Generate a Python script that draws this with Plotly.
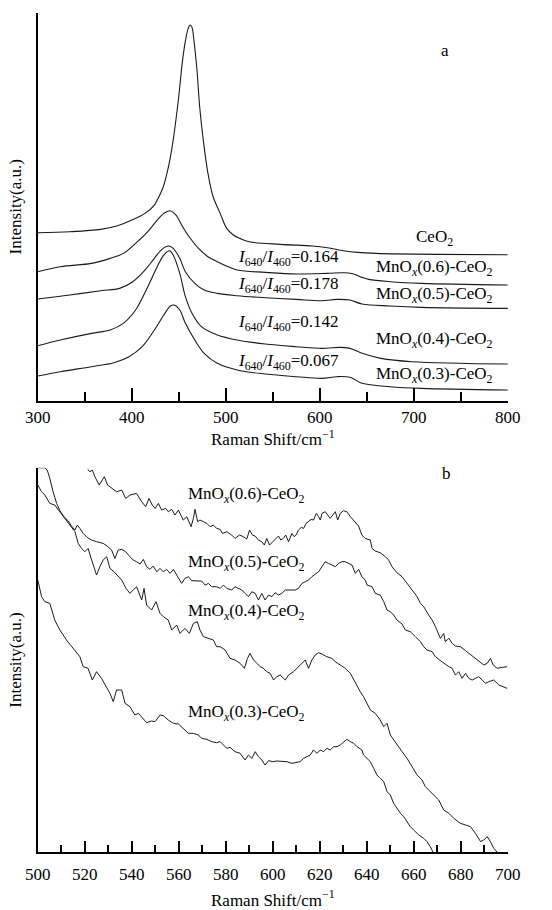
import plotly.graph_objects as go

# ---------------- Panel a data (Raman shift cm-1, intensity a.u.) ----------------
a_ceo2_x = [300, 334, 367, 384, 400, 414, 424, 427, 433.5, 439, 444, 449.5, 454, 457.5, 460, 462, 464, 466, 469,
            472.5, 476, 481, 486.5, 494, 501, 508, 515, 525, 558, 592, 608, 625, 640, 660, 725, 800]
a_ceo2_y = [50.4, 50.7, 51.4, 52.4, 54.2, 56.2, 58.7, 60.2, 64.2, 70.2, 78.2, 90.2, 102.2, 108.7, 111.7, 112.7, 112.0,
            108.2, 100.2, 87.2, 78.2, 68.2, 61.2, 56.2, 51.7, 49.7, 48.7, 47.7, 46.9, 46.4, 45.9, 45.0, 44.5, 44.2,
            43.9, 43.8]

a_06_x = [300, 324, 357, 377, 391, 404, 417, 427, 434, 440.5, 447, 454, 461, 471, 481, 491, 500, 512, 542, 575, 608,
          625, 635, 645, 652, 675, 708, 800]
a_06_y = [38.7, 40.2, 41.2, 42.7, 44.2, 47.2, 50.7, 54.2, 56.2, 57.0, 55.7, 52.2, 49.2, 45.7, 43.2, 41.7, 40.5, 39.2,
          38.5, 38.0, 38.2, 38.4, 38.1, 37.0, 36.4, 35.7, 35.2, 34.7]

a_05_x = [300, 334, 367, 387, 401, 414, 424, 432, 439, 444, 451, 457, 467, 477, 491, 512, 542, 575, 602, 618, 632,
          645, 675, 708, 800]
a_05_y = [30.5, 31.7, 33.0, 33.7, 35.7, 39.2, 42.7, 45.4, 46.4, 45.7, 42.7, 38.7, 35.2, 33.2, 32.2, 31.5, 30.9, 30.4,
          30.0, 30.4, 30.2, 29.0, 28.4, 28.0, 27.7]

a_04_x = [300, 324, 357, 377, 391, 404, 417, 427, 434, 440, 444, 451, 457, 464, 474, 491, 512, 542, 575, 602, 622,
          632, 645, 665, 698, 800]
a_04_y = [16.5, 18.2, 20.2, 21.2, 23.2, 27.2, 34.2, 40.2, 43.7, 45.0, 43.7, 38.2, 31.2, 26.2, 22.2, 19.7, 18.2, 17.0,
          16.2, 15.7, 16.0, 15.7, 14.2, 12.7, 11.7, 11.0]

a_03_x = [300, 324, 357, 381, 397, 411, 424, 434, 441, 445, 451, 457, 467, 477, 491, 512, 542, 575, 602, 618, 632,
          645, 675, 708, 800]
a_03_y = [7.4, 8.7, 10.2, 11.4, 13.2, 16.2, 21.2, 25.7, 28.4, 28.7, 27.2, 23.2, 18.2, 14.2, 11.2, 9.2, 8.0, 7.2, 6.7,
          7.2, 7.0, 5.2, 4.2, 3.7, 3.2]

# ---------------- Panel b data ----------------
b_06_x = [521.2, 522.2, 523.2, 524.3, 526.1, 528.3, 529.7, 531.4, 533.5, 535.7, 537.4, 539.2, 542.0, 544.2, 545.9,
          547.3, 548.7, 549.9, 551.3, 552.7, 554.4, 555.5, 557.0, 558.4, 559.8, 561.2, 561.9, 563.4, 564.3, 565.2,
          566.2, 566.9, 568.0, 569.0, 570.5, 571.9, 573.3, 574.7, 576.1, 577.6, 578.6, 580.4, 582.5, 583.9, 585.8,
          587.5, 588.9, 590.1, 591.3, 592.5, 593.9, 595.3, 596.4, 597.4, 598.6, 600.0, 601.3, 602.4, 603.4, 604.5,
          605.5, 606.7, 608.1, 609.1, 609.9, 610.9, 612.1, 613.1, 614.2, 615.2, 616.3, 617.3, 618.5, 619.5, 620.2,
          620.9, 622.3, 624.4, 625.6, 626.6, 627.6, 628.7, 630.1, 631.5, 633.0, 634.4, 636.5, 637.9, 639.3, 641.5,
          642.2, 643.6, 645.7, 647.9, 649.3, 650.7, 652.8, 655.0, 657.1, 659.2, 661.4, 662.8, 664.2, 666.3, 667.8,
          669.2, 670.6, 671.3, 672.7, 673.4, 674.9, 676.3, 677.7, 679.8, 682.0, 683.4, 685.5, 687.6, 689.8, 691.2,
          692.6, 693.8, 695.5, 697.6, 699.7]
b_06_y = [114.9, 114.2, 114.7, 112.7, 110.2, 112.7, 110.2, 109.2, 108.2, 108.7, 106.2, 107.2, 107.7, 105.2, 103.7,
          106.2, 104.2, 103.2, 104.7, 102.7, 103.2, 102.2, 102.9, 101.2, 102.7, 100.7, 99.7, 100.7, 99.2, 97.7,
          100.2, 102.9, 99.2, 99.7, 99.2, 98.7, 97.7, 98.2, 97.2, 96.9, 95.7, 96.2, 95.2, 94.2, 95.2,
          94.7, 94.0, 96.7, 95.2, 94.9, 93.7, 93.2, 92.2, 94.2, 92.2, 93.2, 93.9, 94.9, 93.7, 94.2,
          95.2, 93.2, 95.7, 94.7, 95.2, 96.7, 97.5, 97.2, 98.7, 99.2, 99.9, 99.7, 101.7, 100.7, 99.7,
          101.7, 102.2, 100.2, 101.2, 102.2, 99.7, 101.7, 102.5, 102.2, 100.7, 99.7, 97.9, 95.2, 94.2, 93.7,
          91.2, 90.4, 89.9, 88.7, 87.7, 85.7, 83.9, 82.7, 80.7, 78.7, 76.7, 74.7, 73.7, 71.2, 69.7,
          67.7, 65.7, 64.2, 65.7, 63.2, 64.2, 62.7, 61.9, 61.7, 60.5, 59.7, 58.5, 57.2, 56.2, 56.7,
          58.2, 56.2, 55.2, 55.5, 55.7]

b_05_x = [500.0, 503.0, 504.0, 505.1, 506.5, 508.0, 509.4, 511.1, 512.9, 514.3, 515.8, 516.8, 517.9, 519.3, 521.0,
          522.9, 525.0, 526.4, 527.8, 529.5, 531.4, 532.8, 534.2, 535.7, 537.4, 539.2, 540.6, 542.0, 543.5, 544.9,
          546.3, 547.7, 549.1, 550.6, 552.0, 553.4, 554.8, 556.3, 557.7, 559.1, 561.2, 562.6, 564.1, 565.5, 567.6,
          569.7, 571.2, 572.6, 574.0, 576.1, 577.6, 579.0, 580.4, 582.5, 583.9, 585.4, 586.8, 588.2, 589.6, 591.1,
          592.5, 593.9, 595.3, 596.7, 598.2, 599.6, 601.0, 602.4, 603.8, 605.3, 607.4, 609.5, 610.9, 612.4, 613.8,
          615.2, 616.6, 618.0, 619.5, 620.9, 622.3, 623.7, 625.1, 626.6, 628.0, 629.4, 630.8, 632.2, 633.7, 635.1,
          636.5, 637.9, 639.3, 640.1, 642.2, 643.6, 645.7, 647.2, 648.6, 650.0, 651.4, 652.8, 655.0, 656.4, 658.5,
          660.7, 662.8, 664.2, 665.6, 667.8, 669.2, 670.6, 672.7, 674.9, 676.3, 677.7, 679.1, 680.5, 682.0, 683.4,
          684.8, 686.2, 687.6, 689.1, 690.5, 691.9, 694.0, 696.2, 698.3, 699.7]
b_05_y = [115.4, 115.4, 114.7, 112.2, 108.2, 104.7, 102.5, 100.7, 99.5, 97.9, 96.7, 98.2, 97.2, 95.7, 94.5,
          93.7, 93.2, 92.9, 92.7, 91.9, 90.7, 88.2, 90.7, 90.9, 90.2, 88.7, 87.7, 87.2, 86.5, 87.9,
          85.7, 84.9, 85.9, 84.2, 85.2, 84.2, 84.9, 83.7, 84.9, 83.2, 80.7, 82.2, 82.7, 81.5, 81.4,
          81.4, 80.2, 80.7, 79.7, 79.7, 79.2, 80.2, 79.2, 78.7, 79.7, 79.2, 78.7, 77.7, 76.7, 78.2,
          77.7, 75.7, 77.7, 75.7, 77.2, 76.7, 77.9, 77.2, 77.7, 78.7, 78.7, 78.7, 79.2, 80.7, 81.2,
          81.7, 82.7, 83.5, 84.2, 85.7, 87.2, 86.7, 86.2, 85.7, 86.7, 87.2, 87.2, 86.7, 86.2, 83.7,
          84.9, 82.7, 81.7, 80.2, 79.7, 77.7, 77.2, 75.2, 72.7, 72.2, 71.2, 69.7, 68.5, 66.7, 66.2,
          64.7, 63.2, 61.7, 60.7, 60.2, 58.7, 57.9, 56.7, 55.7, 55.2, 53.2, 54.2, 52.2, 53.7, 52.2,
          51.7, 52.2, 52.7, 51.7, 50.7, 51.2, 51.7, 50.2, 49.7, 49.2]

b_04_x = [500.0, 501.6, 503.0, 505.1, 507.2, 509.4, 511.5, 513.6, 515.8, 517.2, 518.6, 520.0, 521.4, 522.9, 525.0,
          526.4, 527.8, 529.3, 530.7, 532.4, 533.8, 535.7, 537.5, 539.2, 540.6, 542.0, 544.2, 545.2, 546.3, 548.4,
          550.3, 552.0, 553.4, 555.5, 557.0, 559.1, 560.5, 562.6, 564.5, 566.2, 567.9, 569.0, 570.5, 572.6, 574.7,
          576.1, 577.6, 579.7, 581.8, 583.9, 586.1, 587.9, 589.2, 590.3, 591.8, 593.2, 594.6, 596.0, 597.4, 598.9,
          600.3, 601.7, 603.1, 605.3, 606.7, 608.8, 610.9, 612.4, 613.8, 615.2, 616.6, 618.0, 619.5, 620.9, 623.0,
          625.1, 626.6, 628.7, 630.8, 633.0, 634.4, 635.8, 637.2, 638.6, 640.1, 641.5, 643.6, 645.7, 647.2, 648.6,
          650.0, 651.4, 653.6, 655.0, 657.1, 659.2, 661.4, 663.5, 664.9, 666.3, 668.5, 670.6, 672.7, 674.9, 677.0,
          679.8, 682.0, 684.1, 686.2, 688.4, 689.8, 691.2, 692.6, 694.0, 695.5]
b_04_y = [110.2, 108.2, 107.2, 104.7, 104.2, 102.2, 100.2, 98.2, 96.2, 92.7, 91.2, 90.2, 91.2, 87.7, 83.2,
          85.7, 87.7, 88.7, 85.2, 84.2, 83.2, 81.7, 79.2, 77.7, 78.7, 79.7, 75.7, 79.2, 74.2, 72.7,
          75.2, 71.7, 70.7, 69.7, 66.7, 68.2, 65.7, 67.2, 65.7, 68.7, 69.2, 66.7, 64.7, 64.2, 63.7,
          61.7, 61.7, 60.7, 58.2, 57.7, 56.7, 55.2, 58.2, 59.7, 57.7, 56.7, 55.7, 55.2, 54.2, 53.7,
          51.7, 52.7, 53.2, 51.7, 53.2, 54.2, 55.7, 56.7, 57.7, 55.2, 57.7, 59.2, 59.9, 59.5, 58.7,
          58.2, 57.2, 56.2, 55.2, 53.7, 51.7, 49.7, 48.2, 46.7, 44.7, 42.7, 41.7, 39.7, 37.7, 38.7,
          35.2, 33.7, 31.7, 30.2, 28.2, 25.7, 23.2, 21.7, 19.7, 18.7, 17.2, 15.7, 12.7, 11.7, 10.2,
          8.7, 8.2, 7.7, 5.7, 3.2, 3.7, 4.7, 3.2, 1.2, 0.0]

b_03_x = [500.0, 501.6, 503.0, 505.1, 507.2, 509.4, 512.2, 515.1, 517.9, 519.3, 521.4, 523.2, 525.0, 527.1, 529.0,
          530.7, 532.1, 533.5, 535.7, 537.1, 539.2, 541.3, 542.8, 544.2, 546.3, 548.4, 549.9, 552.0, 553.4, 555.5,
          557.7, 559.8, 561.9, 564.1, 566.2, 568.3, 569.7, 571.9, 574.0, 576.1, 577.6, 579.0, 580.4, 581.8, 583.9,
          586.1, 588.2, 589.6, 591.1, 592.5, 593.9, 595.3, 596.7, 598.2, 600.0, 601.7, 603.8, 606.0, 608.1, 610.2,
          611.6, 613.1, 614.5, 615.9, 617.3, 618.8, 620.2, 621.6, 623.0, 624.4, 625.9, 627.3, 628.7, 630.1, 631.5,
          633.0, 634.4, 635.8, 637.9, 638.6, 640.1, 641.5, 642.9, 644.3, 645.7, 647.2, 648.6, 650.0, 651.4, 652.8,
          654.3, 655.7, 657.1, 658.5, 659.9, 662.1, 664.2, 665.6, 667.0, 668.2]
b_03_y = [81.7, 76.7, 75.2, 74.7, 69.7, 66.7, 63.7, 61.2, 58.7, 55.7, 55.2, 51.7, 54.2, 52.2, 49.7,
          47.7, 45.2, 48.7, 48.7, 44.7, 43.7, 41.2, 41.7, 40.7, 38.9, 39.4, 39.2, 41.2, 41.0, 39.7,
          38.7, 38.5, 37.2, 35.7, 35.7, 35.2, 34.2, 33.9, 33.2, 32.9, 33.2, 32.2, 31.2, 31.5, 30.2,
          29.7, 27.7, 29.2, 28.2, 30.2, 28.7, 27.7, 26.2, 27.5, 27.2, 27.4, 27.2, 27.2, 26.7, 26.9,
          27.2, 28.2, 28.7, 29.2, 30.7, 29.7, 30.7, 30.2, 31.2, 30.7, 31.7, 31.7, 32.2, 33.2, 33.9,
          33.2, 32.7, 31.7, 30.7, 29.2, 28.2, 27.2, 25.2, 23.2, 22.2, 21.2, 18.2, 17.2, 14.7, 13.2,
          11.7, 10.7, 9.2, 7.7, 6.7, 5.2, 4.2, 3.2, 1.7, 0.0]

# ---------------- labels ----------------
a_names = ["CeO<sub>2</sub>", "MnO<sub><i>x</i></sub>(0.6)-CeO<sub>2</sub>", "MnO<sub><i>x</i></sub>(0.5)-CeO<sub>2</sub>",
           "MnO<sub><i>x</i></sub>(0.4)-CeO<sub>2</sub>", "MnO<sub><i>x</i></sub>(0.3)-CeO<sub>2</sub>"]
a_name_y = [48.7, 39.7, 31.7, 18.2, 7.7]
ratios = ["0.164", "0.178", "0.142", "0.067"]
ratio_y = [42.7, 34.7, 23.2, 11.5]
b_names = a_names[1:]
b_name_y = [107.2, 86.7, 72.2, 41.7]

A_TOP = 116.4
B_TOP = 115.4

FONT = "Liberation Serif, Times New Roman, serif"
LC = "#1a1a1a"

fig = go.Figure()
for xs, ys in [(a_ceo2_x, a_ceo2_y), (a_06_x, a_06_y), (a_05_x, a_05_y), (a_04_x, a_04_y), (a_03_x, a_03_y)]:
    fig.add_trace(go.Scatter(x=xs, y=ys, mode="lines", xaxis="x", yaxis="y",
                             line=dict(color=LC, width=1.1, shape="spline", smoothing=1.0),
                             showlegend=False, hoverinfo="skip"))
for xs, ys in [(b_06_x, b_06_y), (b_05_x, b_05_y), (b_04_x, b_04_y), (b_03_x, b_03_y)]:
    fig.add_trace(go.Scatter(x=xs, y=ys, mode="lines", xaxis="x2", yaxis="y2",
                             line=dict(color=LC, width=1.0),
                             showlegend=False, hoverinfo="skip"))

TF = dict(family=FONT, size=17, color="black")
annots = []
for name, yv in zip(a_names, a_name_y):
    annots.append(dict(x=722, y=yv, xref="x", yref="y", text=name, showarrow=False, font=TF))
for r, yv in zip(ratios, ratio_y):
    annots.append(dict(x=567, y=yv, xref="x", yref="y",
                       text="<i>I</i><sub>640</sub>/<i>I</i><sub>460</sub>=" + r, showarrow=False, font=TF))
annots.append(dict(x=733, y=105.2, xref="x", yref="y", text="a", showarrow=False, font=TF))
for name, yv in zip(b_names, b_name_y):
    annots.append(dict(x=588.7, y=yv, xref="x2", yref="y2", text=name, showarrow=False, font=TF))
annots.append(dict(x=674, y=113.7, xref="x2", yref="y2", text="b", showarrow=False, font=TF))

XDOM = [0.0685, 0.92]
common_x = dict(showline=True, linecolor="black", linewidth=2, ticks="inside", tickcolor="black",
                tickwidth=1.5, showgrid=False, zeroline=False, mirror=False, automargin=False,
                tickfont=TF)
common_y = dict(showline=True, linecolor="black", linewidth=2, ticks="inside", tickcolor="black",
                tickwidth=1.5, showgrid=False, zeroline=False, showticklabels=False, automargin=False,
                title=dict(text="Intensity(a.u.)", font=TF, standoff=10))

fig.update_layout(
    template="none",
    width=552, height=910, margin=dict(l=0, r=0, t=0, b=0, pad=0), autosize=False,
    paper_bgcolor="white", plot_bgcolor="white",
    font=dict(family=FONT, size=17, color="black"),
    xaxis=dict(common_x, domain=XDOM, range=[300, 800], anchor="y", tickvals=[300, 400, 500, 600, 700, 800],
               ticklen=13, minor=dict(dtick=50, tick0=300, ticks="inside", ticklen=9, tickwidth=1.5,
                                      tickcolor="black", showgrid=False),
               title=dict(text="Raman Shift/cm<sup>−1</sup>", font=TF, standoff=6)),
    yaxis=dict(common_y, domain=[0.5597, 0.986], range=[0, A_TOP], anchor="x", tickvals=[A_TOP], ticklen=10),
    xaxis2=dict(common_x, domain=XDOM, range=[500, 700], anchor="y2",
                tickvals=[500, 520, 540, 560, 580, 600, 620, 640, 660, 680, 700],
                ticklen=11, ticklabelstandoff=5,
                minor=dict(dtick=10, tick0=500, ticks="inside", ticklen=7, tickwidth=1.5,
                           tickcolor="black", showgrid=False),
                title=dict(text="Raman Shift/cm<sup>−1</sup>", font=TF, standoff=11)),
    yaxis2=dict(common_y, domain=[0.0634, 0.486], range=[0, B_TOP], anchor="x2", tickvals=[B_TOP], ticklen=7),
    annotations=annots,
)

fig.write_html("out.html", config=dict(displayModeBar=False),
               post_script="document.body.style.margin='0px';")
